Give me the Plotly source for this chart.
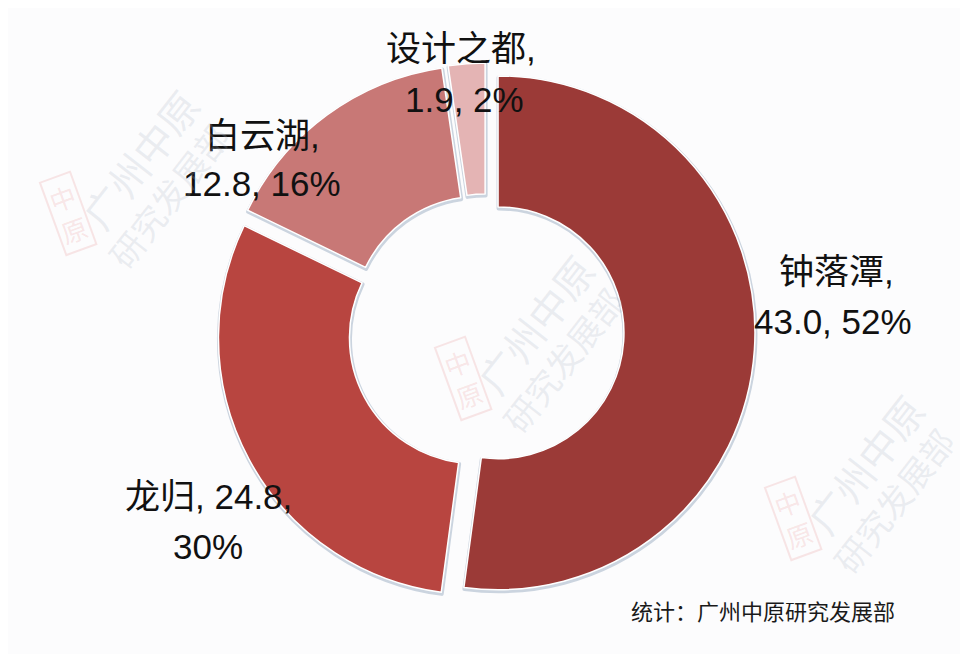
import plotly.graph_objects as go

# ---- data ----
categories = ["钟落潭", "龙归", "白云湖", "设计之都"]
values = [43.0, 24.8, 12.8, 1.9]
colors = ["#9b3a37", "#b84540", "#c87876", "#e4b4b4"]
source_text = "统计：广州中原研究发展部"

# ---- layout / style (not data) ----
W, H = 968, 654
pull = 0.047
cx0, cy0, half = 478, 324, 269
dom_x = [(cx0 - half) / W, (cx0 + half) / W]
dom_y = [1 - (cy0 + half) / H, 1 - (cy0 - half) / H]
# label line centres in pixels: (x1, y1, x2, y2); tokens on first line
label_pos = [(828, 263, 825, 313), (200, 488, 200, 538), (255, 127, 254, 176), (453, 40, 456, 91)]
first_line_tokens = [1, 2, 1, 1]
FONT = "Liberation Sans, Arial, Noto Sans CJK SC, sans-serif"
CJK = "Noto Sans CJK SC, sans-serif"

fig = go.Figure()

# soft shadow / outline pie
fig.add_trace(go.Pie(
    labels=categories, values=values, sort=False, direction="clockwise", rotation=0,
    hole=0.49, pull=[pull] * len(values), textinfo="none", hoverinfo="skip",
    marker=dict(colors=["#cbd4df"] * len(values), line=dict(color="#cbd4df", width=4)),
    domain=dict(x=[dom_x[0] + 0.5 / W, dom_x[1] + 0.5 / W], y=[dom_y[0] - 1.5 / H, dom_y[1] - 1.5 / H]),
    showlegend=False,
))
# main donut
fig.add_trace(go.Pie(
    labels=categories, values=values, sort=False, direction="clockwise", rotation=0,
    hole=0.49, pull=[pull] * len(values), textinfo="none",
    marker=dict(colors=colors, line=dict(color="#ffffff", width=1.5)),
    domain=dict(x=dom_x, y=dom_y),
    showlegend=False,
))

total = sum(values)
annotations = []
for name, v, pos, k in zip(categories, values, label_pos, first_line_tokens):
    pct = round(v / total * 100)
    tokens = [name, f"{v:.1f}", f"{pct}%"]
    line1 = ", ".join(tokens[:k]) + ","
    line2 = ", ".join(tokens[k:])
    x1, y1, x2, y2 = pos
    for t, x, y in ((line1, x1, y1), (line2, x2, y2)):
        annotations.append(dict(
            text=t, x=x / W, y=1 - y / H, xref="paper", yref="paper",
            xanchor="center", yanchor="middle", showarrow=False,
            font=dict(family=FONT, size=35, color="#111111"),
        ))

# faint watermarks
wm = [(120, 165), (515, 330), (845, 470)]
for (cx, cy) in wm:
    annotations.append(dict(
        text="广州中原", x=(cx + 12) / W, y=1 - (cy - 14) / H, xref="paper", yref="paper",
        xanchor="center", yanchor="middle", showarrow=False, textangle=-52,
        font=dict(family=CJK, size=40, color="rgba(170,180,198,0.22)"),
    ))
    annotations.append(dict(
        text="研究发展部", x=(cx + 40) / W, y=1 - (cy + 22) / H, xref="paper", yref="paper",
        xanchor="center", yanchor="middle", showarrow=False, textangle=-52,
        font=dict(family=CJK, size=34, color="rgba(170,180,198,0.22)"),
    ))
    annotations.append(dict(
        text="中<br>原", x=(cx - 60) / W, y=1 - (cy + 40) / H, xref="paper", yref="paper",
        xanchor="center", yanchor="middle", showarrow=False, textangle=-20,
        font=dict(family=CJK, size=26, color="rgba(230,120,120,0.18)"),
        bordercolor="rgba(230,120,120,0.18)", borderwidth=2, borderpad=2,
    ))

annotations.append(dict(
    text=source_text, x=755 / W, y=1 - 602 / H, xref="paper", yref="paper",
    xanchor="center", yanchor="middle", showarrow=False,
    font=dict(family=CJK, size=22, color="#1a1a1a"),
))

fig.update_layout(
    width=W, height=H,
    margin=dict(l=0, r=0, t=0, b=0),
    paper_bgcolor="#fcfcfd", plot_bgcolor="#fcfcfd",
    annotations=annotations,
)

fig.write_html("out.html")
